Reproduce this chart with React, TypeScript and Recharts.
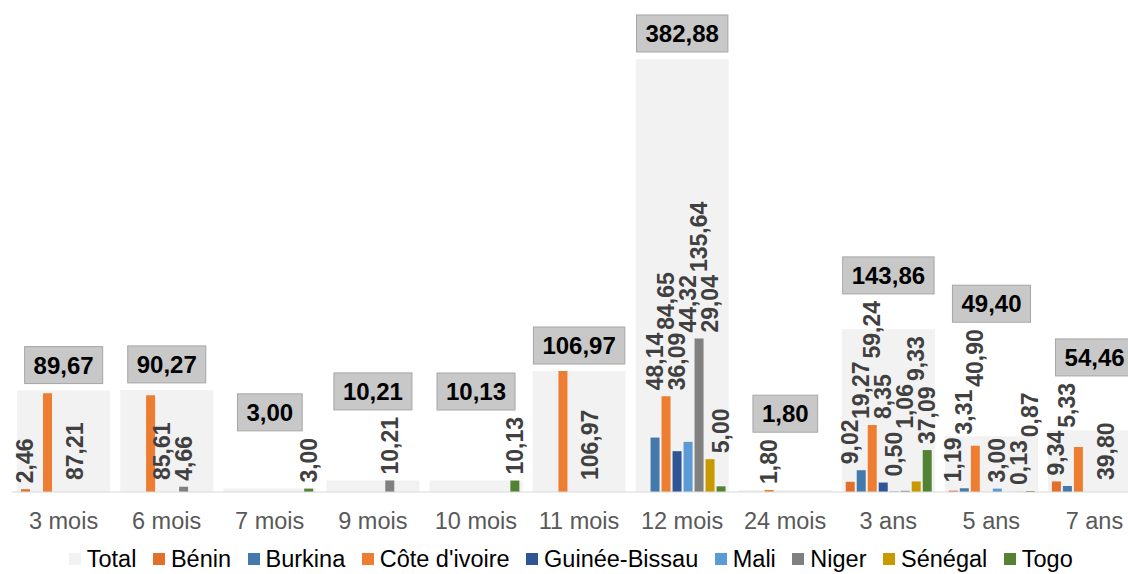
import React from "react";
import { BarChart, Bar, XAxis, YAxis, Legend, LabelList } from "recharts";

const categories = ["3 mois", "6 mois", "7 mois", "9 mois", "10 mois", "11 mois", "12 mois", "24 mois", "3 ans", "5 ans", "7 ans"];
const total = [89.67, 90.27, 3.0, 10.21, 10.13, 106.97, 382.88, 1.8, 143.86, 49.4, 54.46];
const benin = [2.46, null, null, null, null, null, null, null, 9.02, 1.19, 9.34];
const burkina = [null, null, null, null, null, null, 48.14, null, 19.27, 3.31, 5.33];
const coteIvoire = [87.21, 85.61, null, null, null, 106.97, 84.65, 1.8, 59.24, 40.9, 39.8];
const guineeBissau = [null, null, null, null, null, null, 36.09, null, 8.35, null, null];
const mali = [null, null, null, null, null, null, 44.32, null, 0.5, 3.0, null];
const niger = [null, 4.66, null, 10.21, null, null, 135.64, null, 1.06, null, null];
const senegal = [null, null, null, null, null, null, 29.04, null, 9.33, 0.13, null];
const togo = [null, null, 3.0, null, 10.13, null, 5.0, null, 37.09, 0.87, null];

const SERIES = [
  { key: "benin", name: "Bénin", color: "#E2702B", values: benin },
  { key: "burkina", name: "Burkina", color: "#4479AB", values: burkina },
  { key: "ci", name: "Côte d'ivoire", color: "#ED7D31", values: coteIvoire },
  { key: "gb", name: "Guinée-Bissau", color: "#2F5597", values: guineeBissau },
  { key: "mali", name: "Mali", color: "#5B9BD5", values: mali },
  { key: "niger", name: "Niger", color: "#808080", values: niger },
  { key: "senegal", name: "Sénégal", color: "#C99A00", values: senegal },
  { key: "togo", name: "Togo", color: "#548235", values: togo },
];
const TOTAL_COLOR = "#F2F2F2";

const data = categories.map((cat, i) => {
  const row: Record<string, any> = { cat, total: total[i] };
  SERIES.forEach((s) => (row[s.key] = s.values[i]));
  return row;
});

const FONT = "'Liberation Sans', Arial, sans-serif";
const LABEL_FS = 23;
const TOTAL_FS = 24;
const BAR_W = 9;
const BAR_GAP = 2;

const fmt = (v: number) => v.toFixed(2).replace(".", ",");
const textW = (s: string, fs: number) =>
  s.split("").reduce((w, c) => w + (c === "," ? 0.278 : 0.556) * fs, 0);

type Lay = { b: number; t: number; dx: number };

// Rotated labels: a tall bar with free slots on its right gets its label beside it,
// otherwise the label sits above its own bar and its neighbours, and climbs over the
// previous label when they would collide. Distances above the baseline, px.
function labelLayout(i: number, k: number): (Lay | null)[] {
  let prev: Lay | null = null;
  return SERIES.map((s, j) => {
    const v = s.values[i];
    if (v == null) {
      prev = null;
      return null;
    }
    const at = (n: number) => (n >= 0 && n < SERIES.length ? SERIES[n].values[i] : null);
    const len = textW(fmt(v), LABEL_FS);
    let free = 0;
    while (j + free + 1 < SERIES.length && at(j + free + 1) == null) free++;
    if (free >= 2 && v * k >= len * 0.5) {
      const cur = { b: 12, t: 12 + len, dx: free >= 3 ? 2.5 : 1.0 };
      prev = cur;
      return cur;
    }
    let b = Math.max(v, at(j - 1) ?? 0, at(j + 1) ?? 0) * k + 6;
    if (prev && b < prev.t && b + len > prev.b) b = prev.t + 3;
    const cur = { b, t: b + len, dx: 0 };
    prev = cur;
    return cur;
  });
}

const countryLabel = (j: number) => (props: any) => {
  const { x, y, width, height, value } = props;
  const i = categories.indexOf(value);
  const v = i >= 0 ? SERIES[j].values[i] : null;
  if (v == null || !height) return null;
  const base = y + height;
  const k = height / v;
  const lay = labelLayout(i, k)[j];
  if (!lay) return null;
  const cx = x + width / 2 + lay.dx * (width + BAR_GAP);
  const ty = base - lay.b;
  return (
    <text
      x={cx}
      y={ty}
      transform={`rotate(-90 ${cx} ${ty})`}
      textAnchor="start"
      dominantBaseline="central"
      fontFamily={FONT}
      fontSize={LABEL_FS}
      fontWeight="bold"
      fill="#404040"
    >
      {fmt(v)}
    </text>
  );
};

const totalLabel = (props: any) => {
  const { x, y, width, height, value } = props;
  const i = categories.indexOf(value);
  if (i < 0 || !height) return null;
  const v = total[i];
  const base = y + height;
  const k = height / v;
  let top = height;
  labelLayout(i, k).forEach((l) => {
    if (l && l.t > top) top = l.t;
  });
  const txt = fmt(v);
  const w = textW(txt, TOTAL_FS) + 18;
  const h = 37;
  const cx = x + width / 2;
  const by = base - top - 7 - h;
  return (
    <g>
      <rect x={cx - w / 2} y={by} width={w} height={h} fill="#C8C8C8" stroke="#A6A6A6" strokeWidth={1} />
      <text
        x={cx}
        y={by + h / 2}
        textAnchor="middle"
        dominantBaseline="central"
        fontFamily={FONT}
        fontSize={TOTAL_FS}
        fontWeight="bold"
        fill="#000"
      >
        {txt}
      </text>
    </g>
  );
};

const legendItems = [{ name: "Total", color: TOTAL_COLOR }, ...SERIES];

const renderLegend = () => (
  <div
    style={{
      display: "flex",
      justifyContent: "center",
      fontFamily: FONT,
      fontSize: 23.5,
      color: "#000",
      lineHeight: "28px",
      height: 36,
      paddingTop: 6,
      boxSizing: "border-box",
    }}
  >
    {legendItems.map((it) => (
      <span key={it.name} style={{ display: "inline-flex", alignItems: "center", marginRight: 16.5 }}>
        <span style={{ width: 12, height: 12, background: it.color, marginRight: 6, display: "inline-block" }} />
        {it.name}
      </span>
    ))}
  </div>
);

export default function App() {
  return (
    <div style={{ position: "fixed", left: 0, top: 0, width: 1128, height: 574, overflow: "hidden", background: "#fff" }}>
      <BarChart
        width={1148}
        height={574}
        data={data}
        margin={{ top: 17, right: 2, left: 12, bottom: 0 }}
        barCategoryGap="5%"
        barGap={BAR_GAP}
      >
        <XAxis xAxisId="t" dataKey="cat" hide />
        <XAxis
          xAxisId="c"
          dataKey="cat"
          interval={0}
          height={46}
          tickLine={false}
          tickMargin={14}
          axisLine={{ stroke: "#D9D9D9" }}
          tick={{ fontSize: 23.5, fill: "#595959", fontFamily: FONT }}
        />
        <YAxis hide domain={[0, 420]} allowDataOverflow />
        <Legend verticalAlign="bottom" content={renderLegend} />
        <Bar xAxisId="t" dataKey="total" name="Total" fill={TOTAL_COLOR} isAnimationActive={false}>
          <LabelList dataKey="cat" content={totalLabel} />
        </Bar>
        {SERIES.map((s, j) => (
          <Bar key={s.key} xAxisId="c" dataKey={s.key} name={s.name} fill={s.color} barSize={BAR_W} isAnimationActive={false}>
            <LabelList dataKey="cat" content={countryLabel(j)} />
          </Bar>
        ))}
      </BarChart>
    </div>
  );
}
